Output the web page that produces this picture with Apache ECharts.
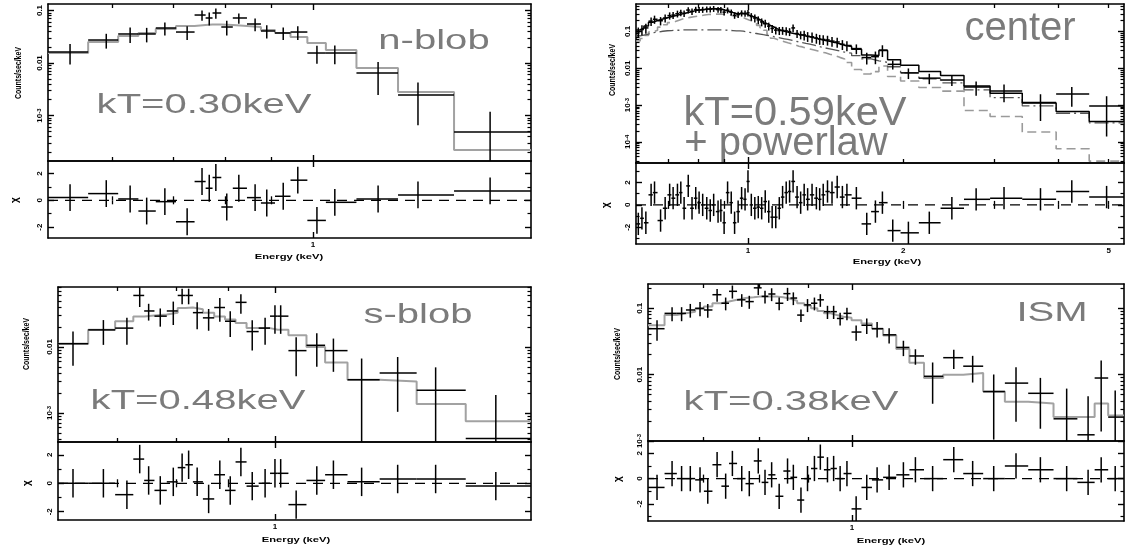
<!DOCTYPE html>
<html><head><meta charset="utf-8">
<script src="https://cdn.jsdelivr.net/npm/echarts@6/dist/echarts.min.js"></script>
<style>html,body{margin:0;padding:0;background:#fff}#c{width:1125px;height:548px}</style>
</head><body><div id="c"></div>
<script>
// ---------------- n-blob ----------------
const nE = [0.539,0.591,0.628,0.655,0.686,0.726,0.754,0.768,0.781,0.803,0.828,0.863,0.889,0.927,0.962,1.010,1.057,1.180,1.306,1.569];
const nY = [0.0162,0.0274,0.0357,0.0357,0.0464,0.0389,0.082,0.072,0.0896,0.0485,0.072,0.0553,0.0407,0.0373,0.0389,0.0155,0.0155,0.00645,0.00245,0.000485];
const nErr = [0.0068,0.0086,0.0117,0.011,0.013,0.0115,0.018,0.020,0.020,0.015,0.016,0.015,0.0115,0.010,0.0115,0.0058,0.006,0.004,0.0018,0.0007];
const nModel = [0.0155,0.0251,0.0327,0.0373,0.0444,0.0507,0.053,0.054,0.054,0.053,0.0507,0.0485,0.0425,0.0373,0.0313,0.024,0.0177,0.0080,0.0028,0.00022];
const nChi = [0.2,0.5,0.1,-0.8,-0.1,-1.6,1.4,0.9,1.7,-0.5,0.9,0.2,-0.2,0.3,1.5,-1.5,-0.15,0.1,0.4,0.7];

// ---------------- center ----------------
const cE = [0.613,0.623,0.634,0.649,0.659,0.677,0.691,0.705,0.716,0.730,0.741,0.752,0.766,0.779,0.792,0.804,0.817,0.832,0.845,0.858,0.875,0.886,0.899,0.913,0.928,0.942,0.957,0.972,0.987,1.000,1.015,1.031,1.047,1.063,1.080,1.097,1.114,1.132,1.150,1.167,1.186,1.204,1.223,1.245,1.265,1.285,1.305,1.331,1.357,1.377,1.399,1.426,1.455,1.489,1.524,1.555,1.622,1.699,1.766,1.822,1.908,2.046,2.246,2.484,2.768,3.135,3.689,4.242,4.955];
const cY = [0.098,0.113,0.125,0.191,0.215,0.196,0.232,0.270,0.279,0.304, 0.326,0.310,0.382,0.350,0.394,0.390,0.394,0.401,0.403,0.416, 0.393,0.387,0.335,0.379,0.333,0.275,0.287,0.315,0.310,0.321, 0.255,0.232,0.207,0.182,0.167,0.140,0.121,0.109,0.106,0.107, 0.104,0.099,0.125,0.088,0.081,0.081,0.074,0.0716,0.0665,0.0621, 0.0608,0.0589,0.0547,0.0519,0.0448,0.0416,0.0343,0.0196,0.0207,0.0312, 0.0128,0.0075,0.0054,0.0048,0.0031,0.0024,0.00117,0.0020,0.00094];
const cErr = [0.03,0.034,0.038,0.05,0.054,0.05,0.056,0.06,0.06,0.064, 0.066,0.062,0.072,0.068,0.074,0.072,0.074,0.074,0.074,0.076, 0.072,0.072,0.064,0.07,0.062,0.054,0.056,0.06,0.06,0.064, 0.06,0.056,0.05,0.044,0.04,0.034,0.03,0.026,0.026,0.026, 0.026,0.024,0.03,0.022,0.02,0.024,0.022,0.022,0.02,0.0186, 0.0182,0.0176,0.0164,0.0156,0.0134,0.0124,0.0102,0.007,0.0078,0.011, 0.0035,0.0024,0.0017,0.0015,0.0013,0.0012,0.0008,0.0011,0.0008];
const cTot = [0.110,0.123,0.140,0.178,0.199,0.217,0.237,0.252,0.267,0.284, 0.301,0.317,0.339,0.357,0.376,0.385,0.394,0.409,0.416,0.416, 0.412,0.400,0.375,0.350,0.328,0.308,0.301,0.301,0.301,0.275, 0.255,0.237,0.210,0.186,0.163,0.147,0.132,0.118,0.108,0.101, 0.096,0.0908,0.0871,0.0834,0.0798,0.0755,0.0716,0.0670,0.0635,0.0601, 0.0569,0.0540,0.0505,0.0463,0.0425,0.0389,0.0327,0.0231,0.0221,0.0306, 0.017,0.012,0.0082,0.0064,0.0033,0.0021,0.00114,0.00067,0.00036];
const cTherm = [0.0551,0.0642,0.0780,0.0970,0.108,0.1315,0.153,0.1745,0.186,0.203, 0.217,0.231,0.242,0.252,0.261,0.270,0.279,0.288,0.294,0.297, 0.297,0.294,0.288,0.281,0.270,0.258,0.247,0.237,0.217,0.203, 0.190,0.171,0.1466,0.126,0.108,0.0834,0.0656,0.0601,0.0563,0.0528, 0.0494,0.0463,0.0434,0.0398,0.0381,0.0353,0.0334,0.0313,0.0293,0.0275, 0.0263,0.0241,0.0221,0.0198,0.0180,0.0143,0.0093,0.0070,0.0081,0.0115, 0.006,0.0045,0.0030,0.0024,0.00071,0.00049,0.000185,0.000065,0.00003];
const cPow = [0.0757,0.0798,0.0851,0.0929,0.0949,0.1014,0.1047,0.1058,0.108,0.108, 0.110,0.110,0.110,0.110,0.110,0.110,0.110,0.110,0.110,0.110, 0.110,0.110,0.109,0.107,0.106,0.1045,0.1035,0.1018,0.0975,0.0944, 0.0912,0.0881,0.0851,0.0818,0.0787,0.0757,0.0722,0.0690,0.0662,0.0634, 0.0607,0.0580,0.0551,0.0522,0.0498,0.0475,0.0453,0.0425,0.0398,0.0377, 0.0357,0.0337,0.0316,0.0294,0.0275,0.0258,0.0220,0.0180,0.0160,0.0145, 0.0110,0.0075,0.0052,0.0040,0.0026,0.0016,0.00095,0.00060,0.00033];
const cChi = [-1.7,-1.2,-1.6,0.9,1.1,-1.4,-0.3,0.9,0.6,0.9, 1.1,-0.3,1.7,-0.3,0.6,0.2,0,-0.3,-0.5,0, -0.6,-0.5,-1.6,1.1,0.2,-1.6,-0.6,0.6,0.5,2.1, 0,-0.3,-0.2,-0.3,0.3,-0.6,-1.1,-1.1,-0.3,0.7, 1.1,1.2,2.1,0.7,0.2,0.9,0.5,0.9,0.6,0.5, 0.9,1.2,1.1,1.6,0.7,0.9,0.6,-1.7,-0.6,0.2, -2.3,-2.5,-1.6,-0.3,0.5,0.6,0.5,1.2,0.7];

// ---------------- s-blob ----------------
const sE = [0.634,0.679,0.716,0.737,0.752,0.772,0.795,0.811,0.823,0.839,0.861,0.883,0.904,0.926,0.950,0.978,1.000,1.013,1.049,1.099,1.141,1.216,1.319,1.437,1.646];
const sY = [0.0112,0.01815,0.0193,0.0603,0.0351,0.0293,0.0351,0.0603,0.0603,0.0331,0.0276,0.0396,0.0245,0.0474,0.0171,0.0193,0.0293,0.0293,0.0088,0.0106,0.0088,0.00318,0.00404,0.00221,0.00041];
const sErr = [0.006,0.0074,0.0085,0.020,0.010,0.009,0.0136,0.016,0.016,0.0146,0.010,0.0155,0.0104,0.0155,0.0083,0.0085,0.0135,0.0135,0.0052,0.0056,0.0046,0.0035,0.003,0.0027,0.00146];
const sModel = [0.0112,0.0182,0.0245,0.0290,0.0300,0.0311,0.0331,0.0390,0.0396,0.0373,0.0331,0.0290,0.0260,0.0231,0.0193,0.0193,0.0182,0.0182,0.0151,0.00995,0.0058,0.00318,0.00299,0.00137,0.00075];
const sChi = [0,0,-0.8,1.7,0.2,-0.5,0.1,1.1,1.3,0.1,-1.1,0.6,-0.5,1.5,-0.2,0,0.7,0.7,-1.5,0.2,0.6,0.1,0.3,0.3,-0.2];

// ---------------- ISM ----------------
const iE = [0.627,0.650,0.665,0.679,0.695,0.708,0.724,0.739,0.751,0.768, 0.782,0.799,0.812,0.825,0.840,0.857,0.869,0.885,0.899,0.914, 0.927,0.943,0.957,0.972,0.988,1.010,1.036,1.062,1.093,1.131, 1.164,1.213,1.276,1.335,1.404,1.481,1.570,1.672,1.760,1.816,1.878];
const iY = [0.0492,0.0838,0.0838,0.0942,0.100,0.0942,0.160,0.119,0.180,0.134, 0.126,0.203,0.151,0.164,0.119,0.166,0.1425,0.0789,0.1125,0.119, 0.134,0.0889,0.0889,0.0702,0.0838,0.0438,0.0554,0.0492,0.0398,0.0257, 0.0191,0.00944,0.0180,0.0134,0.00555,0.00745,0.00523,0.00216,0.00124,0.00889,0.00229];
const iErr = [0.0167,0.020,0.020,0.022,0.024,0.022,0.035,0.026,0.040,0.029, 0.028,0.045,0.033,0.036,0.026,0.037,0.031,0.017,0.025,0.026, 0.029,0.020,0.020,0.015,0.018,0.0114,0.0144,0.0128,0.0103,0.0067, 0.0050,0.0058,0.0058,0.0058,0.0045,0.0055,0.0037,0.0040,0.0035,0.0075,0.0035];
const iModel = [0.0554,0.0789,0.0838,0.0889,0.0977,0.106,0.119,0.126,0.134,0.1425, 0.146,0.151,0.151,0.151,0.146,0.139,0.130,0.119,0.110,0.100, 0.0910,0.0838,0.0789,0.0744,0.0718,0.0661,0.0587,0.0492,0.0389,0.0243, 0.0151,0.00889,0.0100,0.0106,0.00555,0.00389,0.00367,0.00229,0.00229,0.00367,0.00243];
const iChi = [-0.7,0.4,0,0,-0.1,-1.0,1.1,-0.6,1.2,0, -0.4,1.4,-0.3,0.3,-1.4,0.6,0.1,-1.7,0,0.8, 1.7,0.7,0.8,0,0.4,-2.4,-0.7,-0.1,0.1,0.3, 0.7,0,1.5,0.4,0,1.0,0.7,0,-0.3,0.7,0];

// ---------------- tick / label values ----------------
const ticksLowMinor = [0.6,0.7,0.8,0.9];
const ticksMinor07 = [0.7,0.8,0.9];
const ticksCenterMinor = [0.7,0.8,0.9,2,3,4,5];
const energyLabelsCenter = [1,2,5];
const energyLabels = [1];
const resLabels = [-2,0,2];

const FONT = 'Liberation Sans';
const GRAY_TEXT = '#7b7b7b';
const MODEL_GRAY = '#a2a2a2';

const panels = [
  { E:nE, Y:nY, Err:nErr, chi:nChi,
    models:[{v:nModel, color:MODEL_GRAY, width:2, dash:'solid'}],
    spec:{left:48,top:4,width:483,height:157}, res:{left:48,top:161,width:483,height:77},
    x:[0.5096,1.741], y:[1.36e-4,0.133], r:[-2.81,2.93],
    xMinor:ticksLowMinor, xMajor:[1], xLab:energyLabels, yLab:[0.1,0.01,0.001] },
  { E:cE, Y:cY, Err:cErr, chi:cChi,
    models:[{v:cTherm, color:'#9a9a9a', width:1.6, dash:[9,5]},
            {v:cPow, color:'#555555', width:1.3, dash:[14,4,2,4]},
            {v:cTot, color:'#000000', width:1.5, dash:'solid'}],
    spec:{left:636,top:4,width:488,height:159}, res:{left:636,top:163,width:488,height:81},
    x:[0.6067,5.355], y:[2.67e-5,0.558], r:[-3.5,3.75],
    xMinor:ticksCenterMinor, xMajor:[1], xLab:energyLabelsCenter, yLab:[0.1,0.01,0.001,0.0001] },
  { E:sE, Y:sY, Err:sErr, chi:sChi,
    models:[{v:sModel, color:MODEL_GRAY, width:2, dash:'solid'}],
    spec:{left:58,top:287,width:473,height:155}, res:{left:58,top:442,width:473,height:78},
    x:[0.6129,1.782], y:[3.63e-4,0.081], r:[-2.58,2.9],
    xMinor:ticksMinor07, xMajor:[1], xLab:energyLabels, yLab:[0.01,0.001] },
  { E:iE, Y:iY, Err:iErr, chi:iChi,
    models:[{v:iModel, color:MODEL_GRAY, width:2, dash:'solid'}],
    spec:{left:648,top:284,width:476,height:157}, res:{left:648,top:441,width:476,height:80},
    x:[0.6136,1.918], y:[1.0e-3,0.232], r:[-3.36,2.98],
    xMinor:ticksMinor07, xMajor:[1], xLab:energyLabels, yLab:[0.1,0.01,0.001] }
];

const texts = [
  {t:'n-blob', x:434, y:41, fs:28, sx:1.43},
  {t:'kT=0.30keV', x:204, y:105, fs:28, sx:1.43},
  {t:'center', x:1020, y:29, fs:40, sx:1.0},
  {t:'kT=0.59keV', x:795, y:114, fs:40, sx:1.04},
  {t:'+ powerlaw', x:786, y:144, fs:40, sx:1.0},
  {t:'s-blob', x:418, y:315, fs:28, sx:1.43},
  {t:'kT=0.48keV', x:198, y:401, fs:28, sx:1.43},
  {t:'ISM', x:1052, y:313, fs:28, sx:1.43},
  {t:'kT=0.38keV', x:791, y:402, fs:28, sx:1.43}
];
const yTitles = [[18,73],[612,70],[26,344],[617,354]];
const chiTitles = [[15,200],[606,205],[27,483],[618,479]];
const xTitles = [[289,257],[887,262],[296,540],[891,541]];

// ---------------- helpers ----------------
function edgesFrom(E, xMin, xMax) {
  const ed = [xMin];
  for (let i = 0; i < E.length - 1; i++) ed.push(Math.sqrt(E[i] * E[i + 1]));
  ed.push(xMax);
  return ed;
}
function logTicks(mn, mx) {
  const maj = [], min = [];
  for (let d = Math.floor(Math.log10(mn)); d <= Math.ceil(Math.log10(mx)); d++) {
    for (let k = 1; k <= 9; k++) {
      const v = +(k * Math.pow(10, d)).toPrecision(6);
      if (v < mn || v > mx) continue;
      (k === 1 ? maj : min).push(v);
    }
  }
  return {maj, min};
}
function yFmt(v) {
  const e = Math.round(Math.log10(v));
  if (e === -1) return '0.1';
  if (e === -2) return '0.01';
  return '10{s|' + e + '}';
}
const lineStyleBlack = {color:'#000', width:1.6};
const labelFont = {fontSize:8, fontWeight:'bold', fontFamily:FONT, color:'#000'};

function makeX(gi, p, withLabels) {
  const base = {type:'log', logBase:10, min:p.x[0], max:p.x[1], gridIndex:gi, splitLine:{show:false}, axisPointer:{show:false}, silent:true};
  const maj = (pos, lab) => Object.assign({}, base, {
    position:pos, axisLine:{show:true, onZero:false, lineStyle:lineStyleBlack},
    axisTick:{show:true, inside:true, length:6, customValues:p.xMajor, lineStyle:{color:'#000', width:1.4}},
    axisLabel: lab ? Object.assign({show:true, customValues:p.xLab, margin:3, formatter:v => String(Math.round(v))}, labelFont) : {show:false}
  });
  const mnr = (pos) => Object.assign({}, base, {
    position:pos, axisLine:{show:false},
    axisTick:{show:true, inside:true, length:4, customValues:p.xMinor, lineStyle:{color:'#000', width:1.3}},
    axisLabel:{show:false}
  });
  return [maj('bottom', withLabels), maj('top', false), mnr('bottom'), mnr('top')];
}
function makeYLog(gi, p) {
  const t = logTicks(p.y[0], p.y[1]);
  const base = {type:'log', logBase:10, min:p.y[0], max:p.y[1], gridIndex:gi, splitLine:{show:false}, axisPointer:{show:false}, silent:true};
  const maj = (pos, lab) => Object.assign({}, base, {
    position:pos, axisLine:{show:true, onZero:false, lineStyle:lineStyleBlack},
    axisTick:{show:true, inside:true, length:6, customValues:t.maj, lineStyle:{color:'#000', width:1.4}},
    axisLabel: lab ? Object.assign({show:true, customValues:p.yLab, rotate:90, margin:4, formatter:yFmt,
      rich:{s:{fontSize:6, fontWeight:'bold', fontFamily:FONT, verticalAlign:'top', lineHeight:7}}}, labelFont) : {show:false}
  });
  const mnr = (pos) => Object.assign({}, base, {
    position:pos, axisLine:{show:false},
    axisTick:{show:true, inside:true, length:3.5, customValues:t.min, lineStyle:{color:'#000', width:1.2}},
    axisLabel:{show:false}
  });
  return [maj('left', true), maj('right', false), mnr('left'), mnr('right')];
}
function makeYRes(gi, p) {
  const minorVals = [-3,-1,1,3].filter(v => v > p.r[0] && v < p.r[1]);
  const base = {type:'value', min:p.r[0], max:p.r[1], gridIndex:gi, splitLine:{show:false}, axisPointer:{show:false}, silent:true};
  const maj = (pos, lab) => Object.assign({}, base, {
    position:pos, axisLine:{show:true, onZero:false, lineStyle:lineStyleBlack},
    axisTick:{show:true, inside:true, length:6, customValues:resLabels, lineStyle:{color:'#000', width:1.4}},
    axisLabel: lab ? Object.assign({show:true, customValues:resLabels, rotate:90, margin:4, formatter:v => String(Math.round(v))}, labelFont) : {show:false}
  });
  const mnr = (pos) => Object.assign({}, base, {
    position:pos, axisLine:{show:false},
    axisTick:{show:true, inside:true, length:3.5, customValues:minorVals, lineStyle:{color:'#000', width:1.2}},
    axisLabel:{show:false}
  });
  return [maj('left', true), maj('right', false), mnr('left'), mnr('right')];
}
function crossRender(yMin, yMax, xMin, xMax) {
  return function (params, api) {
    const x = api.value(0), xl = Math.max(api.value(1), xMin), xh = Math.min(api.value(2), xMax);
    const y = api.value(3);
    const yl = Math.max(api.value(4), yMin), yh = Math.min(api.value(5), yMax);
    const a = api.coord([xl, y]), b = api.coord([xh, y]);
    const c = api.coord([x, yl]), d = api.coord([x, yh]);
    const st = {stroke:'#000', lineWidth:1.5};
    return {type:'group', children:[
      {type:'line', shape:{x1:a[0], y1:a[1], x2:b[0], y2:b[1]}, style:st},
      {type:'line', shape:{x1:c[0], y1:c[1], x2:d[0], y2:d[1]}, style:st}
    ]};
  };
}

const option = {animation:false, backgroundColor:'#fff', grid:[], xAxis:[], yAxis:[], series:[], graphic:[]};

panels.forEach((p, pi) => {
  const gS = pi * 2, gR = pi * 2 + 1;
  option.grid.push(Object.assign({outerBoundsMode:'none', containLabel:false}, p.spec));
  option.grid.push(Object.assign({outerBoundsMode:'none', containLabel:false}, p.res));
  const xS = option.xAxis.length; option.xAxis.push(...makeX(gS, p, false));
  const yS = option.yAxis.length; option.yAxis.push(...makeYLog(gS, p));
  const xR = option.xAxis.length; option.xAxis.push(...makeX(gR, p, true));
  const yR = option.yAxis.length; option.yAxis.push(...makeYRes(gR, p));
  const ed = edgesFrom(p.E, p.x[0], p.x[1]);

  p.models.forEach(m => {
    const pts = [];
    m.v.forEach((v, i) => { pts.push([ed[i], v], [ed[i + 1], v]); });
    option.series.push({type:'line', xAxisIndex:xS, yAxisIndex:yS, data:pts, showSymbol:false, symbol:'none',
      lineStyle:{color:m.color, width:m.width, type:m.dash}, clip:true, z:2, silent:true});
  });
  option.series.push({type:'custom', xAxisIndex:xS, yAxisIndex:yS, clip:true, z:4, silent:true,
    renderItem:crossRender(p.y[0], p.y[1], p.x[0], p.x[1]), encode:{x:0, y:3},
    data:p.E.map((e, i) => [e, ed[i], ed[i + 1], p.Y[i], p.Y[i] - p.Err[i], p.Y[i] + p.Err[i]])});
  option.series.push({type:'line', xAxisIndex:xR, yAxisIndex:yR, data:[[p.x[0], 0], [p.x[1], 0]], showSymbol:false, symbol:'none',
    lineStyle:{color:'#000', width:1.3, type:[10,7]}, z:2, silent:true});
  option.series.push({type:'custom', xAxisIndex:xR, yAxisIndex:yR, clip:true, z:4, silent:true,
    renderItem:crossRender(p.r[0], p.r[1], p.x[0], p.x[1]), encode:{x:0, y:3},
    data:p.E.map((e, i) => [e, ed[i], ed[i + 1], p.chi[i], p.chi[i] - 1, p.chi[i] + 1])});
});

texts.forEach(t => option.graphic.push({type:'text', x:t.x, y:t.y, scaleX:t.sx, silent:true,
  style:{text:t.t, fontSize:t.fs, fontFamily:FONT, fill:GRAY_TEXT, textAlign:'center', textVerticalAlign:'middle'}}));
yTitles.forEach(q => option.graphic.push({type:'text', x:q[0], y:q[1], rotation:Math.PI / 2, scaleY:1.3, silent:true,
  style:{text:'Counts/sec/keV', fontSize:7, fontWeight:'bold', fontFamily:FONT, fill:'#000', textAlign:'center', textVerticalAlign:'middle'}}));
chiTitles.forEach(q => option.graphic.push({type:'text', x:q[0], y:q[1], rotation:Math.PI / 2, silent:true,
  style:{text:'χ', fontSize:10, fontWeight:'bold', fontFamily:FONT, fill:'#000', textAlign:'center', textVerticalAlign:'middle'}}));
xTitles.forEach(q => option.graphic.push({type:'text', x:q[0], y:q[1], scaleX:1.4, silent:true,
  style:{text:'Energy (keV)', fontSize:8, fontWeight:'bold', fontFamily:FONT, fill:'#000', textAlign:'center', textVerticalAlign:'middle'}}));

const chart = echarts.init(document.getElementById('c'), null, {renderer:'canvas'});
chart.setOption(option);
</script>
</body></html>
